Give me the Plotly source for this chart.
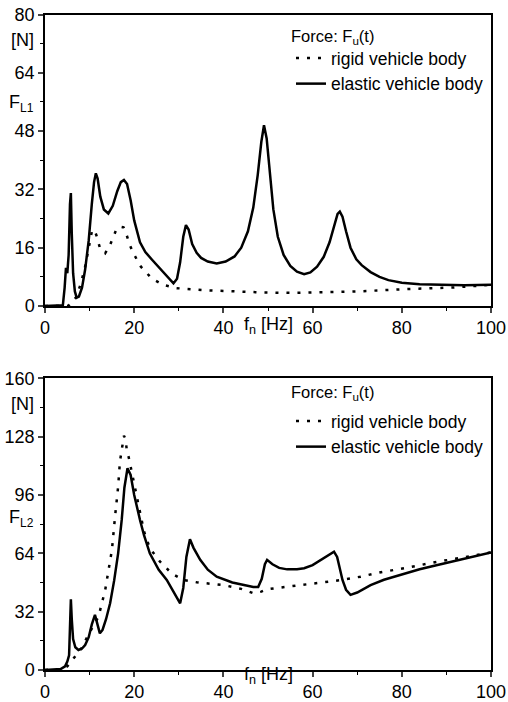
import plotly.graph_objects as go

# ---- data ----
x_tick_vals = [0, 20, 40, 60, 80, 100]
y1_tick_vals = [0, 16, 32, 48, 64, 80]
y2_tick_vals = [0, 32, 64, 96, 128, 160]

top_elastic_f = [0, 4.0, 4.4, 4.7, 5.0, 5.3, 5.6, 5.8, 6.0, 6.3, 6.7, 7.1, 7.6, 8.3, 9.0, 9.8, 10.5, 11.0, 11.4, 11.8,
                 12.4, 13.2, 14.2, 15.2, 16.2, 17.0, 17.7, 18.4, 19.2, 20.0, 21.3, 22.5, 24.0, 25.5, 27.0, 28.0, 28.8,
                 29.6, 30.3, 31.0, 31.6, 32.2, 33.0, 34.0, 35.0, 36.5, 38.5, 40.5, 42.5, 44.0, 45.5, 46.7, 47.7, 48.5,
                 49.1, 49.7, 50.4, 51.2, 52.2, 53.5, 55.0, 56.5, 58.1, 59.5, 61.0, 62.5, 63.8, 64.9, 65.6, 66.1, 66.7,
                 67.5, 68.5, 69.8, 71.0, 73.0, 75.0, 77.0, 80.0, 84.0, 88.0, 94.0, 100.0]
top_elastic_F = [0, 0.2, 5, 10.5, 9, 14, 28, 31, 20, 9, 4, 2.3, 2.6, 5, 10, 18, 28, 34, 36.4, 35,
                 30, 26.5, 25.4, 27.5, 31.5, 34, 34.6, 33.5, 29, 23.5, 17.5, 14.8, 12.7, 10.6, 8.5, 7.1, 6.2,
                 7.5, 12, 19, 22.2, 21, 17, 14.6, 13.2, 12.2, 11.7, 12.2, 13.6, 16, 20.5, 27, 36, 45,
                 49.6, 46, 36, 26.5, 19, 14, 11, 9.4, 8.7, 9.2, 10.8, 13.5, 17.5, 22.5, 25.3, 25.9, 24.5,
                 20.5, 16, 12.8, 11.2, 9.3, 8, 7.1, 6.4, 6, 5.8, 5.7, 5.8]

top_rigid_f = [0, 5.0, 5.5, 6.0, 7.0, 8.0, 9.0, 9.8, 10.5, 11.0, 11.5, 12.3, 13.5, 14.5, 15.2, 16.0, 16.8, 17.6,
               18.3, 19.0, 19.8, 21.5, 23.9, 26.5, 29.5, 32.5, 36.0, 40.7, 45.0, 49.1, 55.0, 61.8, 70.0, 80.5,
               91.7, 100.0]
top_rigid_F = [0, 0, 0.3, 0.8, 2.5, 6, 10.8, 15.5, 20.4, 21, 19.5, 16, 14.5, 16.5, 18.5, 21, 21.8, 21.6,
               19.5, 16.8, 14.5, 10.8, 7.6, 5.8, 4.9, 4.6, 4.3, 4.1, 3.8, 3.7, 3.6, 3.7, 4.0, 4.6,
               5.1, 5.8]

bot_elastic_f = [0, 3.5, 4.5, 5.0, 5.4, 5.6, 5.8, 6.0, 6.3, 6.8, 7.5, 8.3, 9.0, 9.8, 10.5, 11.2, 11.7, 12.3, 12.9,
                 13.7, 14.6, 15.5, 16.4, 17.2, 17.8, 18.5, 19.2, 20.0, 21.3, 22.2, 23.5, 25.5, 27.3, 28.8, 30.3,
                 31.0, 31.7, 32.5, 33.3, 34.8, 36.5, 38.5, 42.0, 46.7, 47.8, 48.6, 49.3, 49.8, 51.0, 52.5, 54.3,
                 56.5, 58.1, 60.0, 61.8, 63.5, 64.8, 65.5, 66.2, 66.7, 67.5, 68.5, 70.0, 73.0, 76.0, 80.5, 84.0,
                 88.0, 94.0, 100.0]
bot_elastic_F = [0, 0.5, 2, 4.6, 8, 25, 38.8, 28, 17, 12.5, 11, 11.8, 13.7, 18, 25, 30.2, 26, 20.1, 22,
                 28, 36.6, 49, 64, 82.3, 100, 110.7, 107, 96, 82.3, 74, 64, 55, 49.4, 43, 36.6,
                 45, 62, 71.7, 67, 60.4, 55, 51.2, 48, 45.5, 45.5, 50, 58, 60.4, 58, 56, 55.2,
                 55.2, 55.8, 57.5, 60.4, 63, 64.9, 62, 54, 49.4, 44, 41.2, 42.5, 46.6, 49.5, 53, 55.3,
                 57.6, 61, 64.4]

bot_rigid_f = [0, 4.0, 5.0, 6.0, 7.0, 8.2, 9.7, 11.0, 12.0, 13.5, 15.0, 15.7, 16.4, 16.8, 17.3, 17.7, 18.0, 18.3,
               18.9, 19.8, 21.0, 22.2, 23.5, 25.8, 28.4, 31.0, 34.0, 40.0, 44.0, 46.9, 48.5, 49.8, 54.3, 60.0,
               64.8, 70.8, 75.0, 80.5, 88.0, 94.0, 100.0]
bot_rigid_F = [0, 0.5, 2, 5, 8.5, 11.9, 19.2, 24.5, 29.3, 43.9, 65.8, 84, 100.6, 114.3, 124, 128.5, 127, 121.6,
               115.2, 104, 90, 76, 66.8, 59.4, 53, 49.4, 48.1, 46.6, 44.5, 42, 43, 44.3, 45.7, 47.2,
               48.8, 51.2, 53.5, 55.8, 59.4, 61.8, 64.5]

legend_title = "Force: F<sub>u</sub>(t)"
name_rigid = "rigid vehicle body"
name_elastic = "elastic vehicle body"

# ---- figure ----
W, H = 508, 702
FONT = "Liberation Sans, Arial, sans-serif"
DOT = "3px,8px"

fig = go.Figure()
fig.add_trace(go.Scatter(x=top_rigid_f, y=top_rigid_F, mode="lines", name=name_rigid,
                         line=dict(color="black", width=2.5, dash=DOT), xaxis="x", yaxis="y", legend="legend"))
fig.add_trace(go.Scatter(x=top_elastic_f, y=top_elastic_F, mode="lines", name=name_elastic,
                         line=dict(color="black", width=2.5), xaxis="x", yaxis="y", legend="legend"))
fig.add_trace(go.Scatter(x=bot_rigid_f, y=bot_rigid_F, mode="lines", name=name_rigid,
                         line=dict(color="black", width=2.5, dash=DOT), xaxis="x2", yaxis="y2", legend="legend2"))
fig.add_trace(go.Scatter(x=bot_elastic_f, y=bot_elastic_F, mode="lines", name=name_elastic,
                         line=dict(color="black", width=2.5), xaxis="x2", yaxis="y2", legend="legend2"))

xdom = [45 / W, 491 / W]
y1dom = [1 - 306 / H, 1 - 14.5 / H]
y2dom = [1 - 670 / H, 1 - 378.3 / H]

def xax(anchor):
    return dict(domain=xdom, range=[0, 100], tickvals=x_tick_vals, ticks="outside", ticklen=5,
                tickwidth=1.5, showline=True, linewidth=1.5, linecolor="black", mirror=True,
                showgrid=False, zeroline=False, anchor=anchor, automargin=False,
                tickfont=dict(family=FONT, size=18, color="black"),
                minor=dict(dtick=10, ticks="outside", ticklen=3, tickwidth=1.2, tickcolor="black", tick0=0))

def yax(dom, ticks, anchor):
    return dict(domain=dom, range=[0, ticks[-1]], tickvals=ticks, ticks="outside", ticklen=5,
                tickwidth=1.5, showline=True, linewidth=1.5, linecolor="black", mirror=True,
                showgrid=False, zeroline=False, anchor=anchor, automargin=False,
                tickfont=dict(family=FONT, size=18, color="black"),
                minor=dict(dtick=ticks[1] / 2, ticks="outside", ticklen=3, tickwidth=1.2,
                           tickcolor="black", tick0=0))

LEG_SIZE = 17.5
legend_common = dict(font=dict(family=FONT, size=LEG_SIZE, color="black"), bgcolor="rgba(0,0,0,0)",
                     borderwidth=0, xanchor="left", yanchor="top", tracegroupgap=0)

fig.update_layout(
    width=W, height=H, margin=dict(l=0, r=0, t=0, b=0),
    paper_bgcolor="white", plot_bgcolor="white",
    xaxis=xax("y"), yaxis=yax(y1dom, y1_tick_vals, "x"),
    xaxis2=xax("y2"), yaxis2=yax(y2dom, y2_tick_vals, "x2"),
    legend=dict(x=291 / W, y=1 - 40 / H, **legend_common),
    legend2=dict(x=291 / W, y=1 - 403 / H, **legend_common),
    showlegend=True,
)

ann_font = dict(family=FONT, size=18, color="black")
leg_font = dict(family=FONT, size=16.5, color="black")
SUB = "<span style='font-size:12px'>{}</span>"
anns = [
    dict(text="f<sub>n</sub> [Hz]", x=50, xref="x", y=1 - 325 / H, yref="paper", showarrow=False, font=ann_font),
    dict(text="f<sub>n</sub> [Hz]", x=50, xref="x2", y=1 - 689 / H, yref="paper", showarrow=False, font=ann_font),
    dict(text="[N]", x=36 / W, xref="paper", xanchor="right", y=73, yref="y", showarrow=False, font=ann_font),
    dict(text="F<sub>" + SUB.format("L1") + "</sub>", x=36 / W, xref="paper", xanchor="right", y=55.5, yref="y",
         showarrow=False, font=ann_font),
    dict(text="[N]", x=36 / W, xref="paper", xanchor="right", y=146, yref="y2", showarrow=False, font=ann_font),
    dict(text="F<sub>" + SUB.format("L2") + "</sub>", x=36 / W, xref="paper", xanchor="right", y=83, yref="y2",
         showarrow=False, font=ann_font),
    dict(text=legend_title, x=289 / W, xref="paper", xanchor="left", y=1 - 25 / H, yref="paper",
         showarrow=False, font=leg_font),
    dict(text=legend_title, x=289 / W, xref="paper", xanchor="left", y=1 - 393 / H, yref="paper",
         showarrow=False, font=leg_font),
]
fig.update_layout(annotations=anns)

fig.write_html("out.html")
